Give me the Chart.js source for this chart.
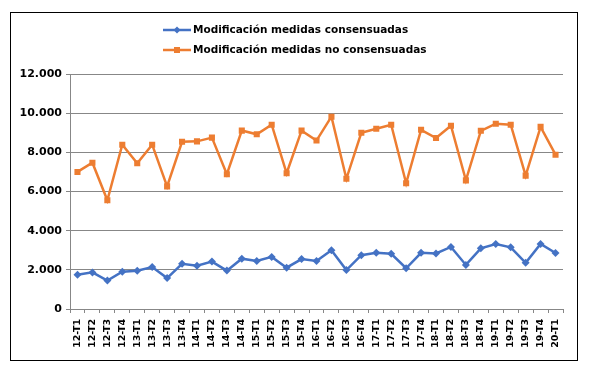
<!DOCTYPE html>
<html>
<head>
<meta charset="utf-8">
<script src="https://cdn.jsdelivr.net/npm/chart.js@4/dist/chart.umd.min.js"></script>
<style>
  html, body { margin: 0; padding: 0; background: #fff; }
  #wrap { position: relative; width: 590px; height: 367px; }
</style>
</head>
<body>
<div id="wrap"><canvas id="c" width="590" height="367"></canvas></div>
<script>
const categories = ['12-T1','12-T2','12-T3','12-T4','13-T1','13-T2','13-T3','13-T4',
  '14-T1','14-T2','14-T3','14-T4','15-T1','15-T2','15-T3','15-T4',
  '16-T1','16-T2','16-T3','16-T4','17-T1','17-T2','17-T3','17-T4',
  '18-T1','18-T2','18-T3','18-T4','19-T1','19-T2','19-T3','19-T4','20-T1'];
const seriesNames = ['Modificación medidas consensuadas', 'Modificación medidas no consensuadas'];
const consensuadas = [1750,1870,1450,1900, 1950,2140,1580,2310, 2210,2420,1960,2570,
  2450,2660,2110,2550, 2450,3000,1990,2750, 2870,2820,2080,2870, 2840,3170,2250,3100,
  3320,3150,2360,3320, 2860];
const noConsensuadas = [7000,7470,5550,8390, 7440,8390,6260,8540, 8560,8750,6880,9110,
  8920,9410,6930,9110, 8600,9820,6650,9000, 9200,9410,6420,9150, 8730,9360,6570,9100,
  9460,9410,6810,9300, 7880];
const yTickValues = [0, 2000, 4000, 6000, 8000, 10000, 12000];
const yTickLabels = ['0', '2.000', '4.000', '6.000', '8.000', '10.000', '12.000'];

const BLUE = '#4472C4';
const ORANGE = '#ED7D31';
const GRID = '#878787';

const legendAndBorder = {
  id: 'legendAndBorder',
  afterDraw(chart) {
    const ctx = chart.ctx;
    ctx.save();
    // outer border
    ctx.strokeStyle = '#000';
    ctx.lineWidth = 1;
    ctx.strokeRect(10.5, 12.5, 567, 348);
    // legend
    const rows = [
      {ds: chart.data.datasets[0], y: 30},
      {ds: chart.data.datasets[1], y: 50}
    ];
    rows.forEach(r => {
      const ds = r.ds;
      ctx.strokeStyle = ds.borderColor;
      ctx.lineWidth = 2.5;
      ctx.beginPath();
      ctx.moveTo(163, r.y);
      ctx.lineTo(191, r.y);
      ctx.stroke();
      ctx.fillStyle = ds.backgroundColor;
      ctx.beginPath();
      if (ds.pointStyle === 'rect') {
        ctx.rect(174, r.y - 3, 6, 6);
      } else {
        ctx.moveTo(177, r.y - 3.5); ctx.lineTo(180.5, r.y); ctx.lineTo(177, r.y + 3.5); ctx.lineTo(173.5, r.y);
        ctx.closePath();
      }
      ctx.fill();
      ctx.fillStyle = '#000';
      ctx.font = 'bold 10.5px "DejaVu Sans"';
      ctx.textBaseline = 'middle';
      ctx.textAlign = 'left';
      ctx.fillText(ds.label, 193, r.y + 0.5);
    });
    ctx.restore();
  }
};

new Chart(document.getElementById('c'), {
  type: 'line',
  data: {
    labels: categories,
    datasets: [
      {
        label: seriesNames[0],
        data: consensuadas,
        borderColor: BLUE,
        backgroundColor: BLUE,
        borderWidth: 2.5,
        pointStyle: 'rectRot',
        pointRadius: 4,
        pointBorderWidth: 0,
        tension: 0
      },
      {
        label: seriesNames[1],
        data: noConsensuadas,
        borderColor: ORANGE,
        backgroundColor: ORANGE,
        borderWidth: 2.5,
        pointStyle: 'rect',
        pointRadius: 4.3,
        pointBorderWidth: 0,
        tension: 0
      }
    ]
  },
  options: {
    responsive: false,
    animation: false,
    devicePixelRatio: 1,
    layout: { padding: { left: 10, right: 27, top: 74, bottom: 0 } },
    plugins: {
      legend: { display: false },
      tooltip: { enabled: false }
    },
    scales: {
      x: {
        offset: true,
        grid: { display: true, drawOnChartArea: false, drawTicks: true, tickLength: 4, color: GRID, offset: true },
        border: { display: true, color: GRID, width: 1 },
        ticks: {
          minRotation: 90, maxRotation: 90, autoSkip: false, padding: 6,
          color: '#000',
          font: { family: '"DejaVu Sans"', weight: 'bold', size: 9.5 }
        },
        afterFit(scale) { scale.height = 58; }
      },
      y: {
        min: 0, max: 12000,
        afterBuildTicks(scale) { scale.ticks = yTickValues.map(v => ({value: v})); },
        grid: { color: GRID, lineWidth: 1, drawTicks: true, tickLength: 4 },
        border: { display: true, color: GRID, width: 1 },
        ticks: {
          padding: 4,
          color: '#000',
          font: { family: '"DejaVu Sans"', weight: 'bold', size: 11 },
          callback: (v) => yTickLabels[yTickValues.indexOf(v)]
        },
        afterFit(scale) { scale.width = 60; }
      }
    }
  },
  plugins: [legendAndBorder]
});
</script>
</body>
</html>
